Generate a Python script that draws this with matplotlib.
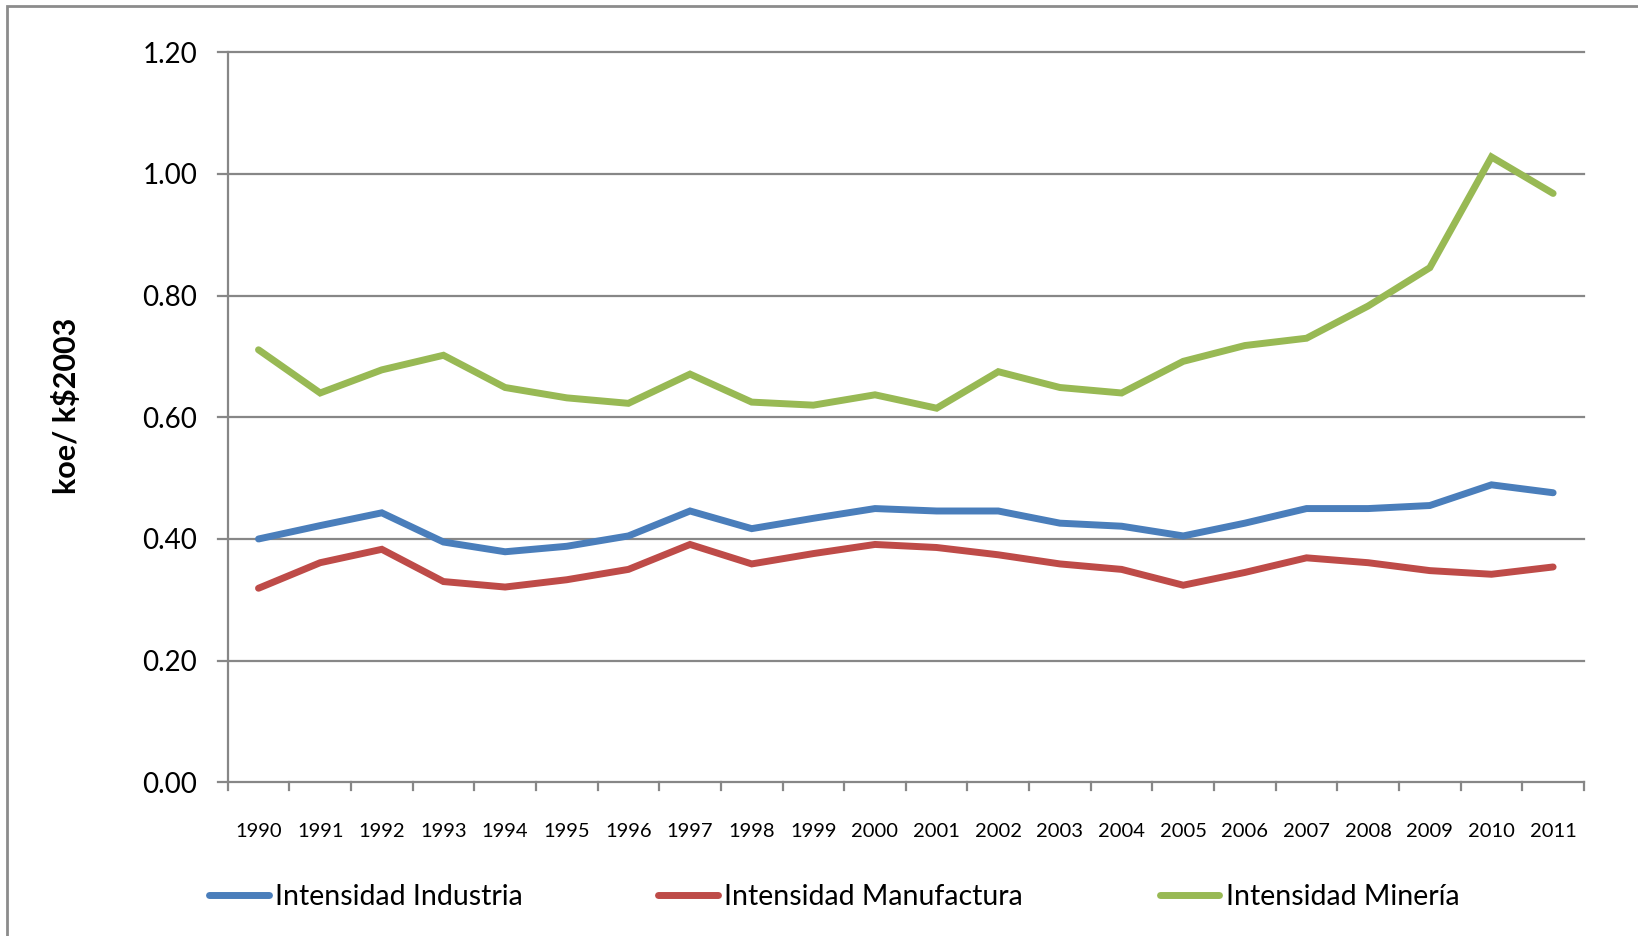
"""
Intensidad energética por sector, 1990-2011
"""

import matplotlib.pyplot as plt
import matplotlib.patches as mpatches
from matplotlib.lines import Line2D

plt.rcParams['font.family'] = ['Lato', 'DejaVu Sans']

YEARS = [str(y) for y in range(1990, 2012)]

industria = [0.400, 0.422, 0.443, 0.395, 0.379, 0.388, 0.405, 0.446, 0.417, 0.434, 0.450,
             0.446, 0.446, 0.426, 0.421, 0.405, 0.426, 0.450, 0.450, 0.455, 0.489, 0.476]
manufactura = [0.319, 0.361, 0.383, 0.330, 0.321, 0.333, 0.350, 0.391, 0.359, 0.376, 0.391,
               0.386, 0.374, 0.359, 0.350, 0.324, 0.345, 0.369, 0.361, 0.348, 0.342, 0.354]
mineria = [0.711, 0.640, 0.678, 0.702, 0.649, 0.632, 0.623, 0.671, 0.625, 0.620, 0.637,
           0.615, 0.675, 0.649, 0.640, 0.692, 0.718, 0.730, 0.783, 0.846, 1.028, 0.968]

SERIES = [
    ('Intensidad Industria', industria, '#4A7EBB'),
    ('Intensidad Manufactura', manufactura, '#BE4B48'),
    ('Intensidad Minería', mineria, '#98B954'),
]

GRID = '#878787'
LW = 5.0

fig = plt.figure(figsize=(16.38, 9.36), dpi=100)
ax = fig.add_axes([0.139, 0.1642, 0.828, 0.7799])

x = list(range(len(YEARS)))
lines = []
for name, vals, col in SERIES:
    ln, = ax.plot(x, vals, color=col, linewidth=LW, solid_capstyle='round',
                  solid_joinstyle='miter', label=name, zorder=3)
    lines.append(ln)

ax.set_xlim(-0.5, len(YEARS) - 0.5)
ax.set_ylim(0, 1.2)

yt = [0.0, 0.2, 0.4, 0.6, 0.8, 1.0, 1.2]
ax.set_yticks(yt)
ax.set_yticklabels([f'{v:.2f}' for v in yt], fontsize=20)
ax.tick_params(axis='y', length=0, pad=22)
for v in yt[1:]:
    ax.plot([-0.65, len(YEARS) - 0.5], [v, v], color=GRID, linewidth=1.6,
            clip_on=False, zorder=1)

ax.set_xticks(x)
ax.set_xticklabels(YEARS, fontsize=14.5)
ax.tick_params(axis='x', length=0, pad=29)
# category tick marks between labels
for i in range(len(YEARS) + 1):
    ax.plot([i - 0.5, i - 0.5], [0, -0.012], color=GRID, linewidth=1.6,
            clip_on=False, zorder=1)
ax.plot([-0.65, len(YEARS) - 0.5], [0, 0], color=GRID, linewidth=1.6,
        clip_on=False, zorder=2)

for s in ['top', 'right', 'bottom']:
    ax.spines[s].set_visible(False)
ax.spines['left'].set_color(GRID)
ax.spines['left'].set_linewidth(1.6)

ax.set_ylabel('koe/ k$2003', fontsize=22, fontweight='bold')
ax.yaxis.set_label_coords(-0.108, 0.515)

# legend entries, placed like the original one
leg_x = [0.1276, 0.4018, 0.7079]
for ln, lx in zip(lines, leg_x):
    h = Line2D([], [], color=ln.get_color(), linewidth=LW, solid_capstyle='round')
    fig.legend(handles=[h], labels=[ln.get_label()], loc='center left',
               bbox_to_anchor=(lx, 0.042), frameon=False, fontsize=20.5,
               handlelength=2.1, handletextpad=0.22, borderpad=0, borderaxespad=0)

# chart area border
fig.add_artist(mpatches.Rectangle((7 / 1638, -0.05), 1.1, 0.05 + 1 - 6 / 936,
                                  transform=fig.transFigure, fill=False,
                                  edgecolor='#8C8C8C', linewidth=2.0))

fig.savefig('out.png', dpi=100)
